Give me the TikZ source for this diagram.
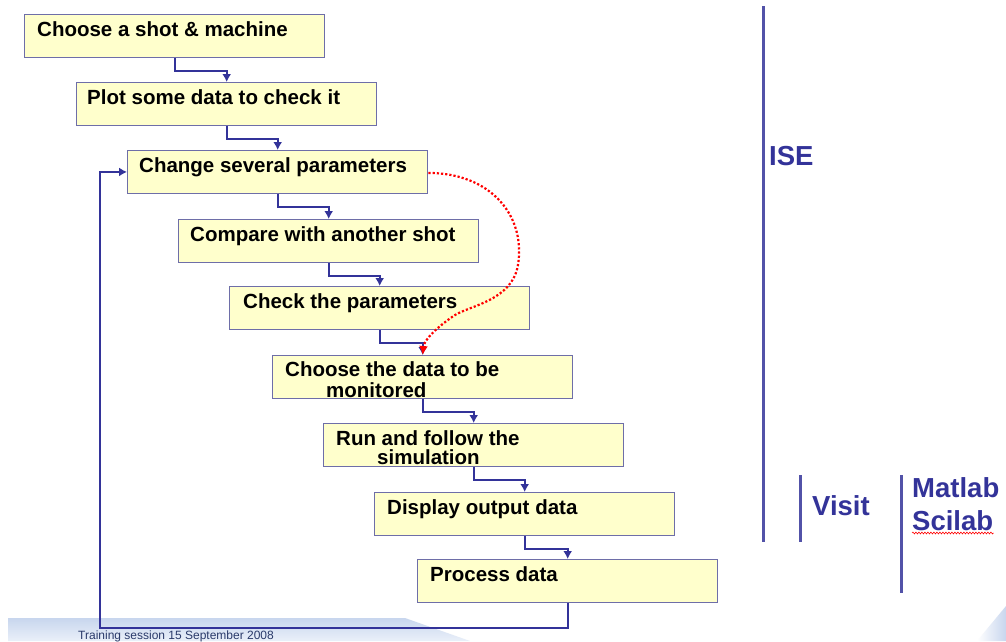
\documentclass[tikz,border=0pt]{standalone}
\usepackage{fontspec}
\setmainfont{Liberation Sans}
\usetikzlibrary{arrows.meta,calc,decorations.pathmorphing}
\definecolor{boxfill}{HTML}{FFFFCC}
\definecolor{boxline}{HTML}{6E6EA8}
\definecolor{navy}{HTML}{333399}
\definecolor{foottop}{RGB}{200,214,238}
\definecolor{footbot}{RGB}{234,240,249}
\definecolor{foottext}{HTML}{2A3A6A}
\begin{document}
\begin{tikzpicture}[x=1pt,y=-1pt,
  box/.style={draw=boxline, line width=1.4pt, fill=boxfill, minimum width=300pt, minimum height=42.5pt, anchor=north west, inner sep=0pt},
  lbl/.style={anchor=base west, inner sep=0pt, font=\fontsize{20.5}{24}\selectfont\bfseries},
  conn/.style={draw=navy, line width=2.4pt, -{Latex[length=8pt,width=9pt]}},
  reddot/.style={draw=red, line width=2.2pt, dotted, -{Latex[length=9pt,width=9pt]}},
  side/.style={draw=navy!85!white, line width=3pt},
  sidetxt/.style={anchor=base west, inner sep=0pt, text=navy, font=\fontsize{27.5}{31}\selectfont\bfseries}]
\useasboundingbox (0,0) rectangle (1006,641);
\fill[white] (0,0) rectangle (1006,641);

% footer band
\shade[top color=foottop, bottom color=footbot] (8,618) -- (405,618) -- (470,641) -- (8,641) -- cycle;
\shade[left color=white, right color=foottop] (977,641) -- (1006,606) -- (1006,641) -- cycle;
\node[anchor=base west, inner sep=0pt, text=foottext, font=\fontsize{12}{14}\selectfont] (foot) at (78,639) {Training session 15 September 2008};

% boxes
\node[box] (b1) at (24,14) {};
\node[box] (b2) at (76,82) {};
\node[box] (b3) at (127,150) {};
\node[box] (b4) at (178,219) {};
\node[box] (b5) at (229,286) {};
\node[box] (b6) at (272,355) {};
\node[box] (b7) at (323,423) {};
\node[box] (b8) at (374,492) {};
\node[box] (b9) at (417,559) {};

% connectors
\draw[conn] (b1.south) -- ++(0,13) -| (b2.north);
\draw[conn] (b2.south) -- ++(0,13) -| (b3.north);
\draw[conn] (b3.south) -- ++(0,13) -| (b4.north);
\draw[conn] (b4.south) -- ++(0,13) -| (b5.north);
\draw[conn] (b5.south) -- ++(0,13) -| (b6.north);
\draw[conn] (b6.south) -- ++(0,13) -| (b7.north);
\draw[conn] (b7.south) -- ++(0,13) -| (b8.north);
\draw[conn] (b8.south) -- ++(0,13) -| (b9.north);
\coordinate (fb) at (100,628);
\draw[conn] (b9.south) |- (fb) |- (b3.west);

% labels
\node[lbl] (t1) at (37,36) {Choose a shot \& machine};
\node[lbl] (t2) at (87,104) {Plot some data to check it};
\node[lbl] (t3) at (139,172) {Change several parameters};
\node[lbl] (t4) at (190,241) {Compare with another shot};
\node[lbl] (t5) at (243,308) {Check the parameters};
\node[lbl] (t6a) at (285,376) {Choose the data to be};
\node[lbl] (t6b) at (326,397) {monitored};
\node[lbl] (t7a) at (336,445) {Run and follow the};
\node[lbl] (t7b) at (377,464) {simulation};
\node[lbl] (t8) at (387,514) {Display output data};
\node[lbl] (t9) at (430,581) {Process data};

% red dotted shortcut
\coordinate (rs) at ($(b3.east)+(0,1)$);
\draw[reddot] (rs) .. controls (490,173) and (526,215) .. (518,265)
  .. controls (512,300) and (472,305) .. (455,315)
  .. controls (437,327) and (424,340) .. (b6.north);

% right side
\coordinate (ise1) at (763,6);
\coordinate (ise2) at (763,542);
\draw[side] (ise1) -- (ise2);
\node[sidetxt] (ise) at (769,165) {ISE};
\coordinate (vis1) at (800,475);
\coordinate (vis2) at (800,542);
\draw[side] (vis1) -- (vis2);
\node[sidetxt] (visit) at (812,515) {Visit};
\coordinate (mat1) at (901,475);
\coordinate (mat2) at (901,593);
\draw[side] (mat1) -- (mat2);
\node[sidetxt] (matlab) at (912,497) {Matlab};
\node[sidetxt] (scilab) at (912,530) {Scilab};
\draw[red, line width=0.6pt, decorate, decoration={snake, amplitude=0.9pt, segment length=3pt}] ($(scilab.base west)+(0,3)$) -- ($(scilab.base east)+(0,3)$);
\end{tikzpicture}
\end{document}
